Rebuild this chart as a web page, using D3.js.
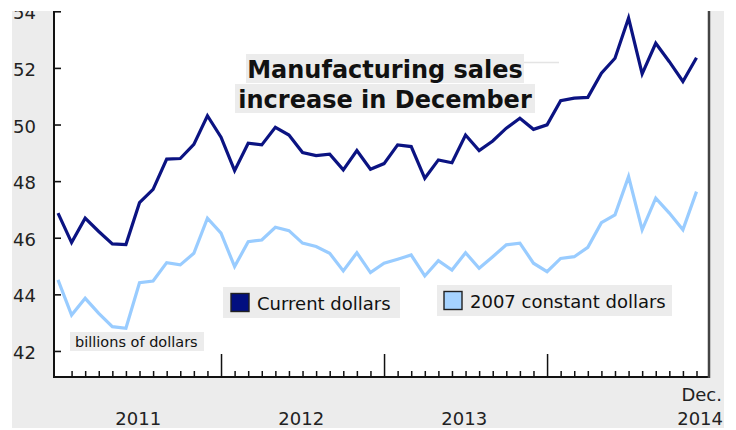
<!DOCTYPE html>
<html>
<head>
<meta charset="utf-8">
<script src="https://cdn.jsdelivr.net/npm/d3@7"></script>
<style>
  body { margin: 0; background: #fff; }
  svg text { font-family: "DejaVu Sans", Verdana, sans-serif; }
</style>
</head>
<body>
<svg id="chart" width="736" height="430"></svg>
<script>
// Monthly manufacturing sales, January 2011 to December 2014 (billions of dollars)
const years = ["2011", "2012", "2013", "2014"];
const monthsPerYear = 12;

const currentDollars = [
  46.87, 45.83, 46.69, 46.22, 45.78, 45.76, 47.24, 47.71, 48.78, 48.80, 49.30, 50.31,
  49.55, 48.37, 49.34, 49.28, 49.90, 49.63, 49.01, 48.90, 48.95, 48.40, 49.08, 48.42,
  48.62, 49.28, 49.22, 48.10, 48.75, 48.65, 49.63, 49.08, 49.42, 49.87, 50.22, 49.83,
  49.99, 50.84, 50.93, 50.96, 51.81, 52.34, 53.76, 51.79, 52.87, 52.22, 51.52, 52.36
];

const constantDollars = [
  44.51, 43.27, 43.86, 43.33, 42.86, 42.80, 44.41, 44.47, 45.12, 45.04, 45.45, 46.69,
  46.16, 44.98, 45.86, 45.92, 46.37, 46.25, 45.81, 45.69, 45.45, 44.83, 45.47, 44.77,
  45.10, 45.24, 45.39, 44.65, 45.19, 44.86, 45.47, 44.92, 45.33, 45.75, 45.81, 45.10,
  44.80, 45.27, 45.33, 45.66, 46.53, 46.81, 48.16, 46.28, 47.40, 46.87, 46.28, 47.63
];

const yTicks = [42, 44, 46, 48, 50, 52, 54];
const seriesNames = ["Current dollars", "2007 constant dollars"];
const titleLines = ["Manufacturing sales", "increase in December"];
const unitLabel = "billions of dollars";
const lastMonthLabel = "Dec.";

const colors = { current: "#0b1382", constant: "#99ccff", panel: "#ececec" };

const svg = d3.select("#chart");

// Frame geometry
const frame = { left: 12, top: 11, right: 724, bottom: 428 };
const plot = { left: 54, top: 11, right: 709, bottom: 377 };

// Everything is cut off along the top edge of the frame
svg.append("defs").append("clipPath").attr("id", "frameClip")
  .append("rect")
  .attr("x", 0).attr("y", frame.top)
  .attr("width", 736).attr("height", 430 - frame.top);

const root = svg.append("g").attr("clip-path", "url(#frameClip)");

// Grey panel with the white plotting area on top
root.append("rect")
  .attr("x", frame.left).attr("y", frame.top)
  .attr("width", frame.right - frame.left).attr("height", frame.bottom - frame.top)
  .attr("fill", colors.panel);
root.append("rect")
  .attr("x", plot.left).attr("y", plot.top)
  .attr("width", plot.right - plot.left).attr("height", plot.bottom - plot.top)
  .attr("fill", "#fff");

const nMonths = currentDollars.length;

const x = d3.scaleLinear()
  .domain([0, nMonths - 1])
  .range([58, 696.5]);

const y = d3.scaleLinear()
  .domain([41.08, 54])
  .range([plot.bottom, 11.3]);

// Faint rule behind the title
root.append("line")
  .attr("x1", 250).attr("x2", 559)
  .attr("y1", 62.5).attr("y2", 62.5)
  .attr("stroke", "#e4e4e4").attr("stroke-width", 1.5);

// Title, each line on its own grey band
const titleBoxes = [
  { x: 246, y: 54, w: 278, h: 29, base: 78 },
  { x: 235, y: 84, w: 300, h: 29, base: 108 }
];
const titleG = root.append("g");
titleBoxes.forEach((b, i) => {
  titleG.append("rect")
    .attr("x", b.x).attr("y", b.y).attr("width", b.w).attr("height", b.h)
    .attr("fill", colors.panel);
  titleG.append("text")
    .attr("x", b.x + b.w / 2).attr("y", b.base)
    .attr("text-anchor", "middle")
    .attr("font-size", 24).attr("font-weight", "bold")
    .attr("fill", "#111")
    .text(titleLines[i]);
});

// Lines
const line = d3.line()
  .x((d, i) => x(i))
  .y(d => y(d))
  .curve(d3.curveLinear);

root.append("path")
  .datum(constantDollars)
  .attr("d", line)
  .attr("fill", "none")
  .attr("stroke", colors.constant)
  .attr("stroke-width", 3.2)
  .attr("stroke-linejoin", "miter");

root.append("path")
  .datum(currentDollars)
  .attr("d", line)
  .attr("fill", "none")
  .attr("stroke", colors.current)
  .attr("stroke-width", 3.2)
  .attr("stroke-linejoin", "miter");

// Legend
const legendItems = [
  { name: seriesNames[0], fill: "#020f80", box: { x: 223, y: 287, w: 177, h: 31 }, sw: { x: 231, y: 293.5 }, tx: 257, base: 310 },
  { name: seriesNames[1], fill: "#a6d3ff", box: { x: 437, y: 285, w: 235, h: 31 }, sw: { x: 444, y: 291.5 }, tx: 470, base: 308 }
];
const legend = root.append("g");
legendItems.forEach(it => {
  legend.append("rect")
    .attr("x", it.box.x).attr("y", it.box.y)
    .attr("width", it.box.w).attr("height", it.box.h)
    .attr("fill", colors.panel);
  legend.append("rect")
    .attr("x", it.sw.x).attr("y", it.sw.y)
    .attr("width", 18).attr("height", 18)
    .attr("fill", it.fill)
    .attr("stroke", "#222").attr("stroke-width", 1.4);
  legend.append("text")
    .attr("x", it.tx).attr("y", it.base)
    .attr("font-size", 18).attr("fill", "#111")
    .text(it.name);
});

// Unit label
root.append("rect")
  .attr("x", 70).attr("y", 332).attr("width", 134).attr("height", 19)
  .attr("fill", colors.panel);
root.append("text")
  .attr("x", 75).attr("y", 346.5)
  .attr("font-size", 14.5).attr("fill", "#111")
  .text(unitLabel);

// Y axis: ticks point into the plot, labels on the grey strip
const yAxis = d3.axisLeft(y)
  .tickValues(yTicks)
  .tickSizeInner(-7)
  .tickSizeOuter(0)
  .tickPadding(18)
  .tickFormat(d3.format("d"));

const yG = root.append("g")
  .attr("transform", `translate(${plot.left},0)`)
  .call(yAxis);
yG.select(".domain").remove();
yG.selectAll(".tick line").attr("stroke", "#111").attr("stroke-width", 1.6);
yG.selectAll(".tick text")
  .attr("font-size", 18).attr("fill", "#222")
  .attr("dy", "0.42em")
  .style("font-family", '"DejaVu Sans", Verdana, sans-serif');

// X axis: a short tick each month after the first, a tall one at each January
const monthIdx = d3.range(1, nMonths);
const majorIdx = monthIdx.filter(i => i % monthsPerYear === 0);
const minorIdx = monthIdx.filter(i => i % monthsPerYear !== 0);

const xMinor = d3.axisBottom(x).tickValues(minorIdx).tickSizeInner(-6).tickSizeOuter(0).tickFormat("");
const xMajor = d3.axisBottom(x).tickValues(majorIdx).tickSizeInner(-23).tickSizeOuter(0).tickFormat("");

[xMinor, xMajor].forEach(ax => {
  const g = root.append("g").attr("transform", `translate(0,${plot.bottom})`).call(ax);
  g.select(".domain").remove();
  g.selectAll(".tick line").attr("stroke", "#111").attr("stroke-width", 1.5);
});

// Year labels, centred on each year's span
const yearLabelY = 425;
years.forEach((yr, k) => {
  if (k < years.length - 1) {
    const cx = (x(k * monthsPerYear) + x(k * monthsPerYear + 11)) / 2 + 5.5;
    root.append("text")
      .attr("x", cx).attr("y", yearLabelY)
      .attr("text-anchor", "middle")
      .attr("font-size", 18).attr("fill", "#222")
      .text(yr);
  } else {
    root.append("text")
      .attr("x", 723).attr("y", yearLabelY)
      .attr("text-anchor", "end")
      .attr("font-size", 18).attr("fill", "#222")
      .text(yr);
    root.append("text")
      .attr("x", 722).attr("y", 401)
      .attr("text-anchor", "end")
      .attr("font-size", 18).attr("fill", "#222")
      .text(lastMonthLabel);
  }
});

// Plot frame: axis lines on the left and bottom, darker rule on the right
root.append("line")
  .attr("x1", plot.left).attr("x2", plot.left)
  .attr("y1", plot.top).attr("y2", plot.bottom + 1)
  .attr("stroke", "#111").attr("stroke-width", 2);
root.append("line")
  .attr("x1", plot.left).attr("x2", plot.right + 1)
  .attr("y1", plot.bottom).attr("y2", plot.bottom)
  .attr("stroke", "#111").attr("stroke-width", 2);
root.append("line")
  .attr("x1", plot.right).attr("x2", plot.right)
  .attr("y1", plot.top).attr("y2", plot.bottom + 1)
  .attr("stroke", "#444").attr("stroke-width", 2.5);
</script>
</body>
</html>
